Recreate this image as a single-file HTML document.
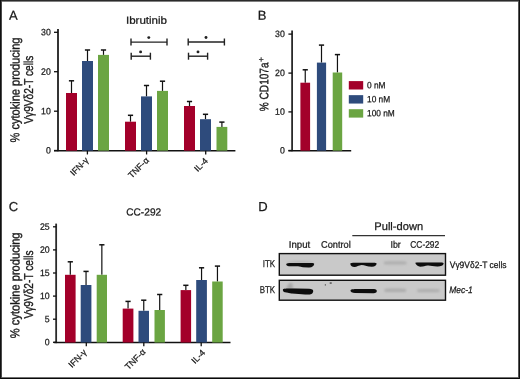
<!DOCTYPE html>
<html><head><meta charset="utf-8"><style>
html,body{margin:0;padding:0;background:#fff;}
body{width:520px;height:379px;overflow:hidden;position:relative;font-family:"Liberation Sans",sans-serif;}
svg{position:absolute;left:0;top:0;will-change:transform;}
text{stroke:#1a1a1a;stroke-width:0.25px;}
</style></head><body>
<svg width="520" height="379" viewBox="0 0 520 379" font-family="Liberation Sans, sans-serif" fill="#1a1a1a">
<text x="9" y="19.8" transform="rotate(0.05 9 19.8)" font-size="13" text-anchor="start" >A</text>
<text x="126" y="23.8" transform="rotate(0.05 126 23.8)" font-size="10.3" text-anchor="start" textLength="41" lengthAdjust="spacingAndGlyphs" >Ibrutinib</text>
<line x1="58" y1="28.9" x2="58" y2="151.3" stroke="#2a2a2a" stroke-width="1.9"/>
<line x1="54" y1="150.65" x2="235.4" y2="150.65" stroke="#111" stroke-width="1.5"/>
<line x1="54" y1="32.3" x2="58" y2="32.3" stroke="#111" stroke-width="1.3"/>
<text x="50.8" y="35.25" transform="rotate(0.05 50.8 35.25)" font-size="9.2" text-anchor="end" textLength="9.72" lengthAdjust="spacingAndGlyphs" >30</text>
<line x1="54" y1="71.7" x2="58" y2="71.7" stroke="#111" stroke-width="1.3"/>
<text x="50.8" y="74.65" transform="rotate(0.05 50.8 74.65)" font-size="9.2" text-anchor="end" textLength="9.72" lengthAdjust="spacingAndGlyphs" >20</text>
<line x1="54" y1="111.2" x2="58" y2="111.2" stroke="#111" stroke-width="1.3"/>
<text x="50.8" y="114.15" transform="rotate(0.05 50.8 114.15)" font-size="9.2" text-anchor="end" textLength="9.72" lengthAdjust="spacingAndGlyphs" >10</text>
<line x1="54" y1="150.5" x2="58" y2="150.5" stroke="#111" stroke-width="1.3"/>
<text x="50.8" y="153.45" transform="rotate(0.05 50.8 153.45)" font-size="9.2" text-anchor="end" textLength="4.86" lengthAdjust="spacingAndGlyphs" >0</text>
<line x1="71.5" y1="93" x2="71.5" y2="80.8" stroke="#111" stroke-width="1.2"/>
<line x1="68.9" y1="80.8" x2="74.1" y2="80.8" stroke="#111" stroke-width="1.5"/>
<rect x="66" y="93" width="11" height="57.65" fill="#a3002a"/>
<line x1="87.5" y1="61" x2="87.5" y2="50" stroke="#111" stroke-width="1.2"/>
<line x1="84.9" y1="50" x2="90.1" y2="50" stroke="#111" stroke-width="1.5"/>
<rect x="82" y="61" width="11" height="89.65" fill="#2e4b7c"/>
<line x1="103.5" y1="54.9" x2="103.5" y2="50" stroke="#111" stroke-width="1.2"/>
<line x1="100.9" y1="50" x2="106.1" y2="50" stroke="#111" stroke-width="1.5"/>
<rect x="98" y="54.9" width="11" height="95.75" fill="#6ba542"/>
<line x1="130.5" y1="121.7" x2="130.5" y2="115.3" stroke="#111" stroke-width="1.2"/>
<line x1="127.9" y1="115.3" x2="133.1" y2="115.3" stroke="#111" stroke-width="1.5"/>
<rect x="125" y="121.7" width="11" height="28.95" fill="#a3002a"/>
<line x1="146.5" y1="96.4" x2="146.5" y2="85.5" stroke="#111" stroke-width="1.2"/>
<line x1="143.9" y1="85.5" x2="149.1" y2="85.5" stroke="#111" stroke-width="1.5"/>
<rect x="141" y="96.4" width="11" height="54.25" fill="#2e4b7c"/>
<line x1="162.5" y1="90.9" x2="162.5" y2="81.2" stroke="#111" stroke-width="1.2"/>
<line x1="159.9" y1="81.2" x2="165.1" y2="81.2" stroke="#111" stroke-width="1.5"/>
<rect x="157" y="90.9" width="11" height="59.75" fill="#6ba542"/>
<line x1="189.5" y1="106" x2="189.5" y2="101.5" stroke="#111" stroke-width="1.2"/>
<line x1="186.9" y1="101.5" x2="192.1" y2="101.5" stroke="#111" stroke-width="1.5"/>
<rect x="184" y="106" width="11" height="44.65" fill="#a3002a"/>
<line x1="205.5" y1="119.2" x2="205.5" y2="114.3" stroke="#111" stroke-width="1.2"/>
<line x1="202.9" y1="114.3" x2="208.1" y2="114.3" stroke="#111" stroke-width="1.5"/>
<rect x="200" y="119.2" width="11" height="31.45" fill="#2e4b7c"/>
<line x1="221.9" y1="126.9" x2="221.9" y2="122.1" stroke="#111" stroke-width="1.2"/>
<line x1="219.3" y1="122.1" x2="224.5" y2="122.1" stroke="#111" stroke-width="1.5"/>
<rect x="216.5" y="126.9" width="10.8" height="23.75" fill="#6ba542"/>
<line x1="87.4" y1="150.65" x2="87.4" y2="154.45" stroke="#111" stroke-width="1.3"/>
<line x1="146.6" y1="150.65" x2="146.6" y2="154.45" stroke="#111" stroke-width="1.3"/>
<line x1="205.7" y1="150.65" x2="205.7" y2="154.45" stroke="#111" stroke-width="1.3"/>
<line x1="131" y1="42.1" x2="167" y2="42.1" stroke="#222" stroke-width="1.4"/>
<line x1="131" y1="38.6" x2="131" y2="45.6" stroke="#222" stroke-width="1.4"/>
<line x1="167" y1="38.6" x2="167" y2="45.6" stroke="#222" stroke-width="1.4"/>
<circle cx="148.8" cy="37.6" r="1.45" fill="#222"/>
<line x1="131.2" y1="56.2" x2="150.4" y2="56.2" stroke="#222" stroke-width="1.4"/>
<line x1="131.2" y1="52.7" x2="131.2" y2="59.7" stroke="#222" stroke-width="1.4"/>
<line x1="150.4" y1="52.7" x2="150.4" y2="59.7" stroke="#222" stroke-width="1.4"/>
<circle cx="140.6" cy="51.9" r="1.45" fill="#222"/>
<line x1="188.2" y1="42" x2="224.4" y2="42" stroke="#222" stroke-width="1.4"/>
<line x1="188.2" y1="38.5" x2="188.2" y2="45.5" stroke="#222" stroke-width="1.4"/>
<line x1="224.4" y1="38.5" x2="224.4" y2="45.5" stroke="#222" stroke-width="1.4"/>
<circle cx="206" cy="37.5" r="1.45" fill="#222"/>
<line x1="188.5" y1="56.2" x2="207.6" y2="56.2" stroke="#222" stroke-width="1.4"/>
<line x1="188.5" y1="52.7" x2="188.5" y2="59.7" stroke="#222" stroke-width="1.4"/>
<line x1="207.6" y1="52.7" x2="207.6" y2="59.7" stroke="#222" stroke-width="1.4"/>
<circle cx="198" cy="51.9" r="1.45" fill="#222"/>
<text transform="translate(89,161) rotate(-45)" font-size="8.8" text-anchor="end">IFN-γ</text>
<text transform="translate(149.5,161) rotate(-45)" font-size="8.8" text-anchor="end">TNF-α</text>
<text transform="translate(208.5,161.5) rotate(-45)" font-size="8.8" text-anchor="end">IL-4</text>
<text transform="translate(19.4,90) rotate(-89.95)" font-size="12.9" text-anchor="middle" style="stroke-width:0.35px" textLength="105" lengthAdjust="spacingAndGlyphs">% cytokine producing</text>
<text transform="translate(33,89.7) rotate(-89.95)" font-size="12.9" text-anchor="middle" style="stroke-width:0.35px" textLength="68" lengthAdjust="spacingAndGlyphs">Vγ9Vδ2-T cells</text>
<text x="257.8" y="19.7" transform="rotate(0.05 257.8 19.7)" font-size="13" text-anchor="start" >B</text>
<line x1="292.1" y1="30.5" x2="292.1" y2="151.3" stroke="#2a2a2a" stroke-width="1.8"/>
<line x1="288.4" y1="150.65" x2="351.2" y2="150.65" stroke="#111" stroke-width="1.5"/>
<line x1="288.4" y1="34.1" x2="292.1" y2="34.1" stroke="#111" stroke-width="1.3"/>
<text x="284.8" y="37.05" transform="rotate(0.05 284.8 37.05)" font-size="9.2" text-anchor="end" textLength="9.72" lengthAdjust="spacingAndGlyphs" >30</text>
<line x1="288.4" y1="73.1" x2="292.1" y2="73.1" stroke="#111" stroke-width="1.3"/>
<text x="284.8" y="76.05" transform="rotate(0.05 284.8 76.05)" font-size="9.2" text-anchor="end" textLength="9.72" lengthAdjust="spacingAndGlyphs" >20</text>
<line x1="288.4" y1="111.9" x2="292.1" y2="111.9" stroke="#111" stroke-width="1.3"/>
<text x="284.8" y="114.85" transform="rotate(0.05 284.8 114.85)" font-size="9.2" text-anchor="end" textLength="9.72" lengthAdjust="spacingAndGlyphs" >10</text>
<line x1="288.4" y1="150.5" x2="292.1" y2="150.5" stroke="#111" stroke-width="1.3"/>
<text x="284.8" y="153.45" transform="rotate(0.05 284.8 153.45)" font-size="9.2" text-anchor="end" textLength="4.86" lengthAdjust="spacingAndGlyphs" >0</text>
<line x1="305.25" y1="82.7" x2="305.25" y2="69.8" stroke="#111" stroke-width="1.2"/>
<line x1="302.65" y1="69.8" x2="307.85" y2="69.8" stroke="#111" stroke-width="1.5"/>
<rect x="300.4" y="82.7" width="9.7" height="67.95" fill="#a3002a"/>
<line x1="321.5" y1="62.6" x2="321.5" y2="45.1" stroke="#111" stroke-width="1.2"/>
<line x1="318.9" y1="45.1" x2="324.1" y2="45.1" stroke="#111" stroke-width="1.5"/>
<rect x="316.9" y="62.6" width="9.2" height="88.05" fill="#2e4b7c"/>
<line x1="337.45" y1="72.5" x2="337.45" y2="54.6" stroke="#111" stroke-width="1.2"/>
<line x1="334.85" y1="54.6" x2="340.05" y2="54.6" stroke="#111" stroke-width="1.5"/>
<rect x="332.7" y="72.5" width="9.5" height="78.15" fill="#6ba542"/>
<rect x="348.8" y="81.1" width="14.4" height="8.4" fill="#a3002a"/>
<text x="367" y="88.2" transform="rotate(0.05 367 88.2)" font-size="9" text-anchor="start" textLength="18.51" lengthAdjust="spacingAndGlyphs" >0 nM</text>
<rect x="348.8" y="95.15" width="14.4" height="8.4" fill="#2e4b7c"/>
<text x="367" y="102.25" transform="rotate(0.05 367 102.25)" font-size="9" text-anchor="start" textLength="23.14" lengthAdjust="spacingAndGlyphs" >10 nM</text>
<rect x="348.8" y="109.2" width="14.4" height="8.4" fill="#6ba542"/>
<text x="367" y="116.3" transform="rotate(0.05 367 116.3)" font-size="9" text-anchor="start" textLength="27.76" lengthAdjust="spacingAndGlyphs" >100 nM</text>
<text transform="translate(268.3,111.2) rotate(-89.95)" font-size="12.3" textLength="48.8" lengthAdjust="spacingAndGlyphs" style="stroke-width:0.35px">% CD107a</text>
<text transform="translate(264,62) rotate(-89.95)" font-size="8.5">+</text>
<text x="8.7" y="211.0" transform="rotate(0.05 8.7 211.0)" font-size="13" text-anchor="start" >C</text>
<text x="126.2" y="215.5" transform="rotate(0.05 126.2 215.5)" font-size="10.3" text-anchor="start" textLength="35" lengthAdjust="spacingAndGlyphs" >CC-292</text>
<line x1="56.15" y1="223.6" x2="56.15" y2="343.15" stroke="#2a2a2a" stroke-width="1.8"/>
<line x1="53.8" y1="342.5" x2="230.5" y2="342.5" stroke="#111" stroke-width="1.4"/>
<line x1="53" y1="226.8" x2="56.15" y2="226.8" stroke="#111" stroke-width="1.3"/>
<text x="49.6" y="229.75" transform="rotate(0.05 49.6 229.75)" font-size="9.2" text-anchor="end" textLength="9.72" lengthAdjust="spacingAndGlyphs" >25</text>
<line x1="53" y1="249.9" x2="56.15" y2="249.9" stroke="#111" stroke-width="1.3"/>
<text x="49.6" y="252.85" transform="rotate(0.05 49.6 252.85)" font-size="9.2" text-anchor="end" textLength="9.72" lengthAdjust="spacingAndGlyphs" >20</text>
<line x1="53" y1="273.0" x2="56.15" y2="273.0" stroke="#111" stroke-width="1.3"/>
<text x="49.6" y="275.95" transform="rotate(0.05 49.6 275.95)" font-size="9.2" text-anchor="end" textLength="9.72" lengthAdjust="spacingAndGlyphs" >15</text>
<line x1="53" y1="296.1" x2="56.15" y2="296.1" stroke="#111" stroke-width="1.3"/>
<text x="49.6" y="299.05" transform="rotate(0.05 49.6 299.05)" font-size="9.2" text-anchor="end" textLength="9.72" lengthAdjust="spacingAndGlyphs" >10</text>
<line x1="53" y1="319.2" x2="56.15" y2="319.2" stroke="#111" stroke-width="1.3"/>
<text x="49.6" y="322.15" transform="rotate(0.05 49.6 322.15)" font-size="9.2" text-anchor="end" textLength="4.86" lengthAdjust="spacingAndGlyphs" >5</text>
<line x1="53" y1="342.3" x2="56.15" y2="342.3" stroke="#111" stroke-width="1.3"/>
<text x="49.6" y="345.25" transform="rotate(0.05 49.6 345.25)" font-size="9.2" text-anchor="end" textLength="4.86" lengthAdjust="spacingAndGlyphs" >0</text>
<line x1="70.3" y1="274.8" x2="70.3" y2="261.8" stroke="#111" stroke-width="1.2"/>
<line x1="67.7" y1="261.8" x2="72.9" y2="261.8" stroke="#111" stroke-width="1.5"/>
<rect x="65" y="274.8" width="10.6" height="67.7" fill="#a3002a"/>
<line x1="86.05" y1="285" x2="86.05" y2="271.4" stroke="#111" stroke-width="1.2"/>
<line x1="83.45" y1="271.4" x2="88.65" y2="271.4" stroke="#111" stroke-width="1.5"/>
<rect x="80.7" y="285" width="10.7" height="57.5" fill="#2e4b7c"/>
<line x1="101.85" y1="274.8" x2="101.85" y2="244.8" stroke="#111" stroke-width="1.2"/>
<line x1="99.25" y1="244.8" x2="104.45" y2="244.8" stroke="#111" stroke-width="1.5"/>
<rect x="96.7" y="274.8" width="10.3" height="67.7" fill="#6ba542"/>
<line x1="128.05" y1="308.6" x2="128.05" y2="301.4" stroke="#111" stroke-width="1.2"/>
<line x1="125.45" y1="301.4" x2="130.65" y2="301.4" stroke="#111" stroke-width="1.5"/>
<rect x="122.7" y="308.6" width="10.7" height="33.9" fill="#a3002a"/>
<line x1="143.75" y1="310.8" x2="143.75" y2="300.2" stroke="#111" stroke-width="1.2"/>
<line x1="141.15" y1="300.2" x2="146.35" y2="300.2" stroke="#111" stroke-width="1.5"/>
<rect x="138.5" y="310.8" width="10.5" height="31.7" fill="#2e4b7c"/>
<line x1="159.7" y1="310" x2="159.7" y2="294.5" stroke="#111" stroke-width="1.2"/>
<line x1="157.1" y1="294.5" x2="162.3" y2="294.5" stroke="#111" stroke-width="1.5"/>
<rect x="154.5" y="310" width="10.4" height="32.5" fill="#6ba542"/>
<line x1="185.85" y1="290.1" x2="185.85" y2="285.3" stroke="#111" stroke-width="1.2"/>
<line x1="183.25" y1="285.3" x2="188.45" y2="285.3" stroke="#111" stroke-width="1.5"/>
<rect x="180.6" y="290.1" width="10.5" height="52.4" fill="#a3002a"/>
<line x1="201.55" y1="280" x2="201.55" y2="267.8" stroke="#111" stroke-width="1.2"/>
<line x1="198.95" y1="267.8" x2="204.15" y2="267.8" stroke="#111" stroke-width="1.5"/>
<rect x="196.2" y="280" width="10.7" height="62.5" fill="#2e4b7c"/>
<line x1="217.45" y1="281.5" x2="217.45" y2="266.1" stroke="#111" stroke-width="1.2"/>
<line x1="214.85" y1="266.1" x2="220.05" y2="266.1" stroke="#111" stroke-width="1.5"/>
<rect x="212.2" y="281.5" width="10.5" height="61.0" fill="#6ba542"/>
<line x1="86.3" y1="342.5" x2="86.3" y2="346.3" stroke="#111" stroke-width="1.3"/>
<line x1="143.8" y1="342.5" x2="143.8" y2="346.3" stroke="#111" stroke-width="1.3"/>
<line x1="201.2" y1="342.5" x2="201.2" y2="346.3" stroke="#111" stroke-width="1.3"/>
<text transform="translate(87.1,353) rotate(-45)" font-size="8.8" text-anchor="end">IFN-γ</text>
<text transform="translate(146.2,352.5) rotate(-45)" font-size="8.8" text-anchor="end">TNF-α</text>
<text transform="translate(205.7,353.4) rotate(-45)" font-size="8.8" text-anchor="end">IL-4</text>
<text transform="translate(19.4,285.3) rotate(-89.95)" font-size="12.9" text-anchor="middle" style="stroke-width:0.35px" textLength="105.7" lengthAdjust="spacingAndGlyphs">% cytokine producing</text>
<text transform="translate(33,284.5) rotate(-89.95)" font-size="12.9" text-anchor="middle" style="stroke-width:0.35px" textLength="68" lengthAdjust="spacingAndGlyphs">Vγ9Vδ2-T cells</text>
<text x="258.2" y="211.0" transform="rotate(0.05 258.2 211.0)" font-size="13" text-anchor="start" >D</text>
<text x="374.3" y="229.9" transform="rotate(0.05 374.3 229.9)" font-size="11" text-anchor="start" textLength="48.8" lengthAdjust="spacingAndGlyphs" >Pull-down</text>
<line x1="352.3" y1="235.6" x2="445" y2="235.6" stroke="#333" stroke-width="1.4"/>
<text x="288.8" y="247.8" transform="rotate(0.05 288.8 247.8)" font-size="9.5" text-anchor="start" textLength="21.4" lengthAdjust="spacingAndGlyphs" >Input</text>
<text x="321.1" y="247.8" transform="rotate(0.05 321.1 247.8)" font-size="9.5" text-anchor="start" textLength="29.7" lengthAdjust="spacingAndGlyphs" >Control</text>
<text x="390.5" y="247.8" transform="rotate(0.05 390.5 247.8)" font-size="9.5" text-anchor="start" textLength="10.3" lengthAdjust="spacingAndGlyphs" >Ibr</text>
<text x="410.3" y="247.8" transform="rotate(0.05 410.3 247.8)" font-size="9.5" text-anchor="start" textLength="28.9" lengthAdjust="spacingAndGlyphs" >CC-292</text>
<text x="275.1" y="267" transform="rotate(0.05 275.1 267)" font-size="9.9" text-anchor="end" textLength="12.4" lengthAdjust="spacingAndGlyphs" >ITK</text>
<text x="275.1" y="293" transform="rotate(0.05 275.1 293)" font-size="9.9" text-anchor="end" textLength="15.4" lengthAdjust="spacingAndGlyphs" >BTK</text>
<text x="449.75" y="267.9" transform="rotate(0.05 449.75 267.9)" font-size="9.3" text-anchor="start" textLength="56.75" lengthAdjust="spacingAndGlyphs" >Vγ9Vδ2-T cells</text>
<text x="449.2" y="292.9" transform="rotate(0.05 449.2 292.9)" font-size="9.3" text-anchor="start" textLength="23.5" lengthAdjust="spacingAndGlyphs" font-style="italic">Mec-1</text>
<defs><filter id="bl" x="-20%" y="-80%" width="140%" height="260%"><feGaussianBlur stdDeviation="0.7"/></filter><filter id="bl2" x="-20%" y="-80%" width="140%" height="260%"><feGaussianBlur stdDeviation="1.1"/></filter></defs>
<rect x="279.3" y="253.6" width="166.2" height="21.60" fill="#c9c9c9" stroke="#111" stroke-width="1.4"/>
<rect x="279.3" y="280.3" width="166.2" height="19.90" fill="#c9c9c9" stroke="#111" stroke-width="1.4"/>
<path d="M287,262 C295,260.5 306,260.5 313,262 L313,263.5 L287,263.5 Z" fill="#a8a8a8" opacity="0.6" filter="url(#bl2)"/>
<path d="M286.5,289 C287.5,283 291,281.5 292.5,284 L293,289 Z" fill="#8a8a8a" opacity="0.5" filter="url(#bl2)"/>
<path d="M286.2,264.3 C286.2,263 288,262.9 292,262.9 L310,263.1 C313,263 314.2,263.3 314.2,263.9 C314,265.5 312.5,267.3 309,267.4 L303,267.3 C301,267.2 300.5,266.3 298,266.3 L289,266.2 C287.2,266.1 286.2,265.4 286.2,264.3 Z" fill="#0d0d0d" opacity="1" filter="url(#bl)"/>
<path d="M350.3,263.8 C350.3,262.7 353,262.6 357,262.7 L372,262.7 C375,262.6 376.6,262.8 376.6,263.5 C376.5,265 375,266.7 372,266.7 C368,266.8 365,265.2 361.5,265 C358.5,265.2 357,267.1 354.5,267.1 C351.8,267.1 350.3,265.5 350.3,263.8 Z" fill="#0d0d0d" opacity="1" filter="url(#bl)"/>
<path d="M415.2,262.8 C416,262.3 420,262.4 425,262.5 L440,262.4 C443,262.4 443.8,262.8 443.6,263.8 C443.2,265.5 441,266.4 437.5,266.4 C433,266.4 431,265.5 428,265.5 C425,265.5 423,266.8 420.5,266.8 C417.8,266.7 416,264.8 415.2,262.8 Z" fill="#0d0d0d" opacity="1" filter="url(#bl)"/>
<path d="M384,261.6 C390,261 400,261 406.5,261.5 L406.5,264.2 C400,264.7 390,264.7 384,264.2 Z" fill="#9a9a9a" opacity="0.55" filter="url(#bl2)"/>
<path d="M282.9,289.4 C283.5,288.6 288,288.6 295,288.6 L309,288.7 C312,288.8 313.2,289.6 313.2,291 C313.2,292.8 312,294.6 308.5,294.6 C304,294.6 300,293.8 295,293.7 C290,293.6 287,292.6 285,292.3 C283.5,292 282.7,290.5 282.9,289.4 Z" fill="#0d0d0d" opacity="1" filter="url(#bl)"/>
<path d="M350.5,290.6 C350.5,289.2 353,289 358,289 L374,288.9 C376.2,289 376.8,289.8 376.8,291 C376.8,292.4 376,293.2 373.5,293.2 L355,293.1 C352,293.1 350.5,292.2 350.5,290.6 Z" fill="#0d0d0d" opacity="1" filter="url(#bl)"/>
<path d="M384.5,288.9 C390,288.5 400,288.5 406,288.9 L406,291.8 C400,292.2 390,292.2 384.5,291.8 Z" fill="#9a9a9a" opacity="0.6" filter="url(#bl2)"/>
<path d="M417.2,289.2 C423,288.8 433,288.8 439.5,289.2 L439.5,291.9 C433,292.3 423,292.3 417.2,291.9 Z" fill="#9a9a9a" opacity="0.55" filter="url(#bl2)"/>
<rect x="324.8" y="284.3" width="1.2" height="1.2" fill="#555"/><rect x="329.7" y="282.4" width="2" height="1.3" fill="#444"/>
<g shape-rendering="crispEdges"><rect x="0" y="1" width="520" height="1" fill="#808080"/><rect x="0" y="377" width="520" height="1" fill="#707070"/><rect x="1" y="0" width="1" height="379" fill="#4a4a4a"/><rect x="518" y="0" width="1" height="379" fill="#555"/><rect x="0" y="0" width="520" height="1" fill="#2a2a2a"/><rect x="0" y="378" width="520" height="1" fill="#080808"/><rect x="0" y="0" width="1" height="379" fill="#111"/><rect x="519" y="0" width="1" height="379" fill="#111"/></g>
</svg>
</body></html>
